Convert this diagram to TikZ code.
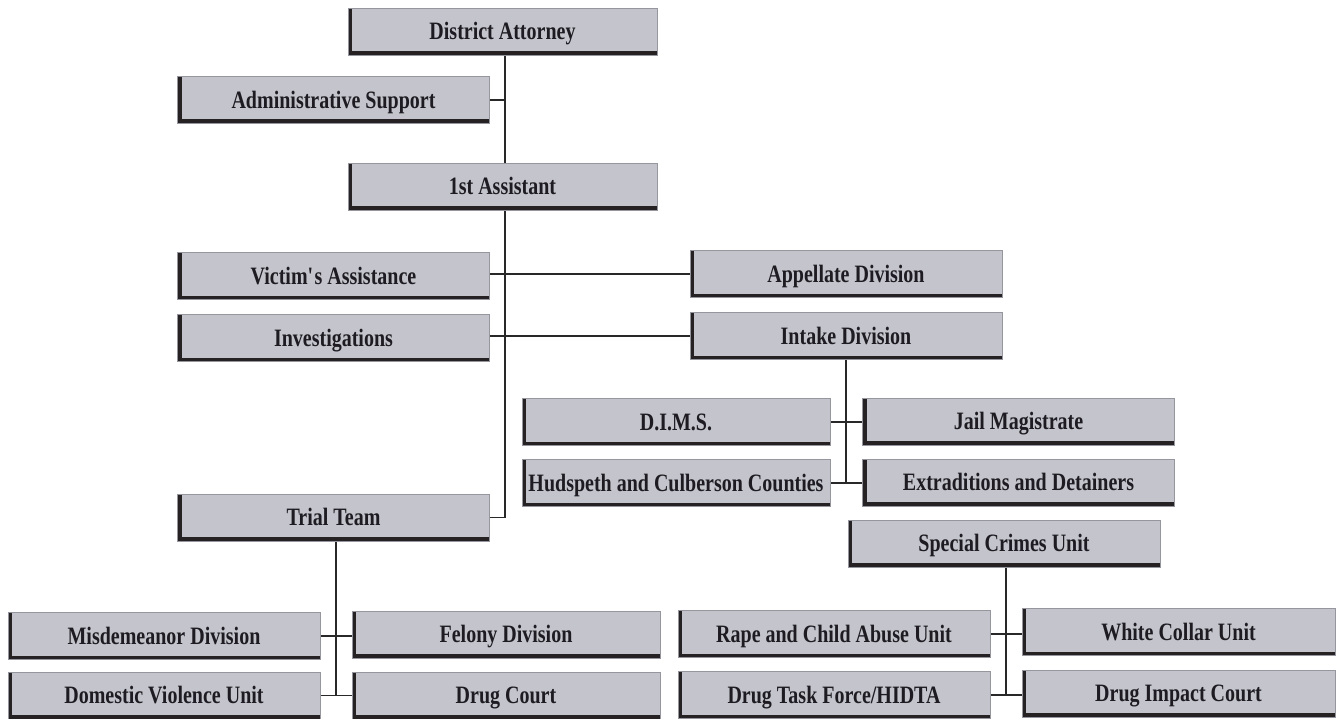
\documentclass[tikz,border=0pt]{standalone}
\usepackage{fontspec}
\setmainfont{Liberation Serif}[FakeStretch=0.8]
\usetikzlibrary{backgrounds}
\begin{document}
\begin{tikzpicture}[x=1pt,y=-1pt,
  orgbox/.style={fill=boxgray, draw=boxedge, line width=0.6pt,
    minimum width=312pt, minimum height=47pt, inner sep=0pt,
    text height=16.5pt, text depth=0pt,
    font=\fontsize{25}{27}\selectfont\bfseries, text=textdark,
    path picture={
      \fill[shadowdark] (path picture bounding box.north west) rectangle ([xshift=4pt]path picture bounding box.south west);
      \fill[shadowdark] ([yshift=4pt]path picture bounding box.south west) rectangle (path picture bounding box.south east);
    }},
  conn/.style={draw=linedark, line width=1.4pt}]
\definecolor{boxgray}{RGB}{196,197,204}
\definecolor{boxedge}{RGB}{150,150,158}
\definecolor{shadowdark}{RGB}{38,34,36}
\definecolor{textdark}{RGB}{30,28,34}
\definecolor{linedark}{RGB}{40,40,40}
\useasboundingbox (0,0) rectangle (1337,719);

\node[orgbox, minimum width=309pt] (da) at (502.5,31.5) {District Attorney};
\node[orgbox] (admin) at (333.5,100) {Administrative Support};
\node[orgbox, minimum width=309pt] (first) at (502.5,186.5) {1st Assistant};
\node[orgbox] (victim) at (333.5,276) {Victim\textquotesingle s Assistance};
\node[orgbox] (appel) at (846,274) {Appellate Division};
\node[orgbox] (invest) at (333.5,338) {Investigations};
\node[orgbox] (intake) at (846,336) {Intake Division};
\node[orgbox, minimum width=308pt] (dims) at (676,422) {D.I.M.S.};
\node[orgbox] (jail) at (1018.5,421.5) {Jail Magistrate};
\node[orgbox, minimum width=308pt] (hud) at (676,483) {Hudspeth and Culberson Counties};
\node[orgbox] (extra) at (1018.5,482.5) {Extraditions and Detainers};
\node[orgbox] (special) at (1004,543.5) {Special Crimes Unit};
\node[orgbox] (trial) at (333.5,517.5) {Trial Team};
\node[orgbox] (misd) at (164,636) {Misdemeanor Division};
\node[orgbox, minimum width=308pt] (felony) at (506,634.5) {Felony Division};
\node[orgbox] (dv) at (164,695.5) {Domestic Violence Unit};
\node[orgbox, minimum width=308pt] (dcourt) at (506,695.5) {Drug Court};
\node[orgbox] (rape) at (834,634) {Rape and Child Abuse Unit};
\node[orgbox, minimum width=313pt] (white) at (1178.5,632) {White Collar Unit};
\node[orgbox] (dtf) at (834,695) {Drug Task Force/HIDTA};
\node[orgbox, minimum width=313pt] (dimpact) at (1178.5,693.5) {Drug Impact Court};

\begin{scope}[on background layer]
\fill[white] (0,0) rectangle (1337,719);
\path (da.south) ++(2.5,0) coordinate (ms);
\draw[conn] (ms) -- (ms |- trial.east) -- (trial.east);
\draw[conn] (admin.east) -- (admin.east -| ms);
\draw[conn] (appel.west -| victim.east) -- (appel.west);
\draw[conn] (intake.west -| invest.east) -- (intake.west);
\draw[conn] (intake.south) -- (intake.south |- hud.east);
\draw[conn] (dims.east) -- (dims.east -| jail.west);
\draw[conn] (hud.east) -- (hud.east -| extra.west);
\path (trial.south) ++(2.5,0) coordinate (ts);
\draw[conn] (ts) -- (ts |- dv.east);
\draw[conn] (misd.east) -- (misd.east -| felony.west);
\draw[conn] (dv.east) -- (dv.east -| dcourt.west);
\path (special.south) ++(2,0) coordinate (ss);
\draw[conn] (ss) -- (ss |- dtf.east);
\draw[conn] (rape.east) -- (rape.east -| white.west);
\draw[conn] (dtf.east) -- (dtf.east -| dimpact.west);
\end{scope}
\end{tikzpicture}
\end{document}
